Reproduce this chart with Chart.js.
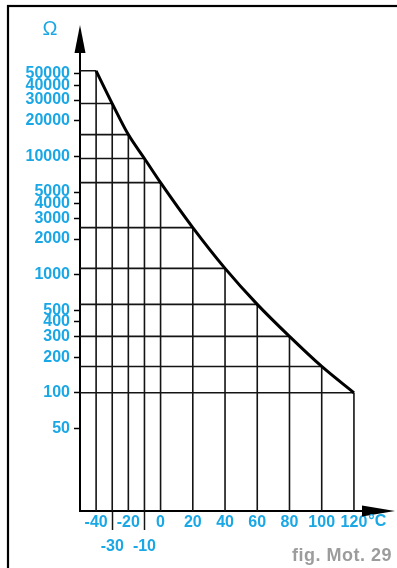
<!DOCTYPE html>
<html>
<head>
<meta charset="utf-8">
<script src="https://cdn.jsdelivr.net/npm/chart.js@4/dist/chart.umd.min.js"></script>
<style>
  html, body { margin: 0; padding: 0; background: #fff; }
  #wrap { position: relative; width: 397px; height: 568px; }
</style>
</head>
<body>
<div id="wrap"><canvas id="c" width="397" height="568"></canvas></div>
<script>
// sensor curve: temperature (°C) against resistance (Ω)
const temps = [-40, -30, -20, -10, 0, 20, 40, 60, 80, 100, 120];
const ohms = [53000, 28000, 15300, 9600, 6000, 2500, 1130, 560, 300, 167, 100];

// tick values shown on each axis
const yTicks = [50, 100, 200, 300, 400, 500, 1000, 2000, 3000, 4000, 5000, 10000, 20000, 30000, 40000, 50000];
const xTicks = [-40, -30, -20, -10, 0, 20, 40, 60, 80, 100, 120];
const xLowRow = [-30, -10]; // these labels sit on the second row

const X_MIN = -50, X_MAX = 125, Y_MIN = 10, Y_MAX = 75000;
const BLUE = "#19a7e6";
const FONT = '"Liberation Sans", Arial, Helvetica, sans-serif';
const INK = "#141414";

// grid under the curve: from each curve point a drop to the x axis and a run
// back to the y axis, segments split by null points
const gridPts = [];
temps.forEach((t, i) => {
  gridPts.push({ x: t, y: Y_MIN }, { x: t, y: ohms[i] }, { x: t, y: null });
  gridPts.push({ x: X_MIN, y: ohms[i] }, { x: t, y: ohms[i] }, { x: t, y: null });
});

const decor = {
  id: "decor",
  beforeDraw(chart) {
    const c = chart.ctx;
    c.save();
    c.fillStyle = "#fff";
    c.fillRect(0, 0, chart.width, chart.height);
    // page frame, runs off the right and bottom edges
    c.strokeStyle = "#000";
    c.lineWidth = 2.2;
    c.strokeRect(8, 6, chart.width + 40, chart.height + 40);
    c.restore();
  },
  afterDraw(chart) {
    const { ctx: c, chartArea: a, scales: { x } } = chart;
    c.save();
    // arrow heads on both axes
    c.fillStyle = "#000";
    c.beginPath();
    c.moveTo(a.left, a.top - 28);
    c.lineTo(a.left - 5.5, a.top);
    c.lineTo(a.left + 5.5, a.top);
    c.closePath();
    c.fill();
    c.beginPath();
    c.moveTo(a.right + 33, a.bottom);
    c.lineTo(a.right, a.bottom - 5.5);
    c.lineTo(a.right, a.bottom + 5.5);
    c.closePath();
    c.fill();

    // unit labels
    c.fillStyle = BLUE;
    c.textBaseline = "middle";
    c.textAlign = "center";
    c.font = "20px " + FONT;
    c.fillText("Ω", 50, 29);
    c.font = "bold 16px " + FONT;
    const w = c.measureText("120").width;
    c.textAlign = "left";
    c.fillText("°C", x.getPixelForValue(120) + w / 2 + 1, a.bottom + 11);

    // figure caption
    c.fillStyle = "#9c9c9c";
    c.font = "bold 18px " + FONT;
    c.letterSpacing = "0.5px";
    c.textAlign = "right";
    c.textBaseline = "alphabetic";
    c.fillText("fig. Mot. 29", 392, 561);
    c.restore();
  },
};

new Chart(document.getElementById("c"), {
  type: "line",
  data: {
    datasets: [
      { data: temps.map((t, i) => ({ x: t, y: ohms[i] })), borderColor: "#000", borderWidth: 3,
        pointRadius: 0, cubicInterpolationMode: "monotone", order: 0 },
      { data: gridPts, borderColor: INK, borderWidth: 1.6, pointRadius: 0, spanGaps: false, order: 1 },
    ],
  },
  options: {
    responsive: false, animation: false, devicePixelRatio: 1,
    layout: { padding: { top: 53, right: 35, left: 0, bottom: 0 } },
    plugins: { legend: { display: false }, tooltip: { enabled: false } },
    scales: {
      x: {
        type: "linear", min: X_MIN, max: X_MAX,
        afterFit: s => { s.height = 57; },
        afterBuildTicks: s => { s.ticks = xTicks.map(v => ({ value: v })); },
        border: { display: true, color: "#000", width: 2 },
        grid: {
          drawOnChartArea: false, drawTicks: true, tickLength: 19, tickWidth: 1.5,
          tickColor: ctx => (ctx.tick && xLowRow.includes(ctx.tick.value)) ? INK : "rgba(0,0,0,0)",
        },
        ticks: {
          autoSkip: false, maxRotation: 0, minRotation: 0, padding: -19, color: BLUE,
          font: { family: FONT, size: 16, weight: "bold", lineHeight: 1.5 },
          callback: v => xLowRow.includes(v) ? ["", String(v)] : [String(v), ""],
        },
      },
      y: {
        type: "logarithmic", min: Y_MIN, max: Y_MAX,
        afterFit: s => { s.width = 80; },
        afterBuildTicks: s => { s.ticks = yTicks.map(v => ({ value: v })); },
        border: { display: true, color: "#000", width: 2 },
        grid: { drawOnChartArea: false, drawTicks: true, tickLength: 6, tickWidth: 1.5, tickColor: "#000" },
        ticks: {
          autoSkip: false, padding: 4, color: BLUE,
          font: { family: FONT, size: 16, weight: "bold" },
          callback: v => String(v),
        },
      },
    },
  },
  plugins: [decor],
});
</script>
</body>
</html>
